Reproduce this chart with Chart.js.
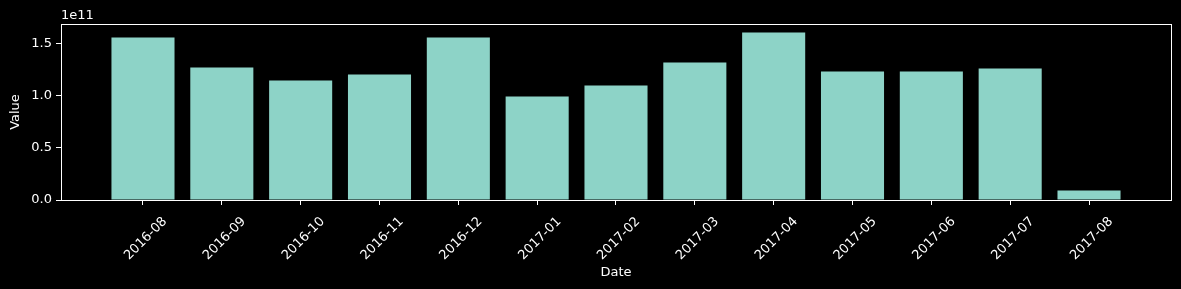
<!DOCTYPE html>
<html>
<head>
<meta charset="utf-8">
<script src="https://cdn.jsdelivr.net/npm/chart.js@4/dist/chart.umd.min.js"></script>
<style>
  html, body { margin: 0; padding: 0; background: #000; }
  #wrap { width: 1181px; height: 289px; }
</style>
</head>
<body>
<div id="wrap"><canvas id="chart"></canvas></div>
<script>
// ─── Data ──────────────────────────────────────────────────────────────────────
const months = ['2016-08', '2016-09', '2016-10', '2016-11', '2016-12', '2017-01', '2017-02',
                '2017-03', '2017-04', '2017-05', '2017-06', '2017-07', '2017-08'];
const values = [1.562e11, 1.274e11, 1.149e11, 1.207e11, 1.562e11, 0.995e11, 1.101e11,
                1.322e11, 1.611e11, 1.236e11, 1.236e11, 1.264e11, 0.091e11];
const yTicks = [0, 0.5e11, 1.0e11, 1.5e11];
const yExponent = 11;

const FONT = 'DejaVu Sans';
const FG = '#ffffff';
const BAR = '#8dd3c7';

// matplotlib-ish margins: 5% around the data
const xMin = -0.4 - 0.64, xMax = months.length - 1 + 0.4 + 0.64;
const yMax = Math.max(...values) * 1.05;

// ─── Plugins ───────────────────────────────────────────────────────────────────
const frame = {
  id: 'frame',
  beforeDraw(chart) {
    const c = chart.ctx;
    c.save();
    c.fillStyle = '#000';
    c.fillRect(0, 0, chart.width, chart.height);
    c.restore();
  },
  afterDraw(chart) {
    const { ctx: c, chartArea: a } = chart;
    c.save();
    c.strokeStyle = FG;
    c.lineWidth = 1;
    c.strokeRect(Math.round(a.left) + 0.5, Math.round(a.top) + 0.5,
                 Math.round(a.right - a.left), Math.round(a.bottom - a.top));
    // offset text of the y axis
    c.fillStyle = FG;
    c.font = '13px ' + FONT;
    c.textAlign = 'left';
    c.textBaseline = 'bottom';
    c.fillText('1e' + yExponent, a.left, a.top - 2);
    c.restore();
  }
};

new Chart(document.getElementById('chart'), {
  type: 'bar',
  data: {
    datasets: [{
      data: values.map((v, i) => ({ x: i, y: v })),
      backgroundColor: BAR,
      borderColor: BAR,
      borderWidth: 0,
      inflateAmount: 0,
      barPercentage: 0.8,
      categoryPercentage: 1.0
    }]
  },
  options: {
    responsive: true,
    maintainAspectRatio: false,
    animation: false,
    layout: { padding: { left: 0, top: 24, right: 10, bottom: 0 } },
    plugins: { legend: { display: false }, tooltip: { enabled: false } },
    scales: {
      x: {
        type: 'linear',
        offset: false,
        min: xMin,
        max: xMax,
        afterBuildTicks: s => { s.ticks = months.map((_, i) => ({ value: i })); },
        afterFit: s => { s.height = 89; },
        border: { display: false },
        grid: { offset: false, drawOnChartArea: false, drawTicks: true, tickLength: 5, color: FG, tickWidth: 1 },
        ticks: {
          autoSkip: false,
          minRotation: 45,
          maxRotation: 45,
          labelOffset: 22,
          padding: 9,
          color: FG,
          font: { family: FONT, size: 13 },
          callback: v => months[v] ?? ''
        },
        title: { display: true, text: 'Date', color: FG, font: { family: FONT, size: 13 }, padding: { top: 0, bottom: 9 } }
      },
      y: {
        min: 0,
        max: yMax,
        afterBuildTicks: s => { s.ticks = yTicks.map(v => ({ value: v })); },
        afterFit: s => { s.width = 61; },
        border: { display: false },
        grid: { drawOnChartArea: false, drawTicks: true, tickLength: 5, color: FG, tickWidth: 1 },
        ticks: {
          padding: 4,
          color: FG,
          font: { family: FONT, size: 13 },
          callback: v => (v / Math.pow(10, yExponent)).toFixed(1)
        },
        title: { display: true, text: 'Value', color: FG, font: { family: FONT, size: 13 }, padding: { top: 8, bottom: 0 } }
      }
    }
  },
  plugins: [frame]
});
</script>
</body>
</html>
